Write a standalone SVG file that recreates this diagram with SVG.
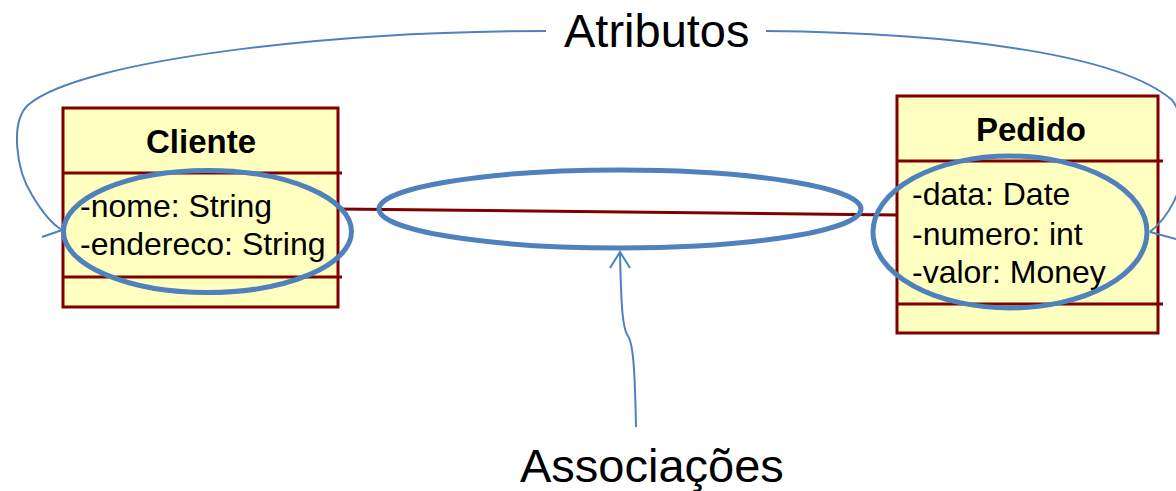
<svg xmlns="http://www.w3.org/2000/svg" width="1176" height="491" viewBox="0 0 1176 491">
<defs>
<style>
.box{fill:#FFFFBF;stroke:#800000;stroke-width:3}
.div{stroke:#800000;stroke-width:3;fill:none}
.title{font-family:"Liberation Sans",Arial,sans-serif;font-weight:bold;font-size:33px;fill:#000;text-anchor:middle}
.attr{font-family:"Liberation Sans",Arial,sans-serif;font-size:32px;fill:#000}
.label{font-family:"Liberation Sans",Arial,sans-serif;font-size:47px;fill:#000}
.ell{fill:none;stroke:#4F81BD;stroke-width:5}
.cur{fill:none;stroke:#4F81BD;stroke-width:2}
.assoc{stroke:#800000;stroke-width:3;fill:none}
</style>
</defs>
<rect width="1176" height="491" fill="#fff"/>
<g id="connectors">
<line class="assoc" x1="338" y1="209" x2="897" y2="215"/>
</g>
<g id="cliente">
<rect class="box" x="63" y="108" width="275" height="199"/>
<line class="div" x1="63" y1="173" x2="342" y2="173"/>
<line class="div" x1="63" y1="277" x2="342" y2="277"/>
<text class="title" x="201" y="153">Cliente</text>
<text class="attr" x="80" y="217">-nome: String</text>
<text class="attr" x="80" y="255">-endereco: String</text>
</g>
<g id="pedido">
<rect class="box" x="897" y="96" width="261" height="237"/>
<line class="div" x1="897" y1="161" x2="1163" y2="161"/>
<line class="div" x1="897" y1="304" x2="1163" y2="304"/>
<text class="title" x="1031" y="141">Pedido</text>
<text class="attr" x="912" y="205">-data: Date</text>
<text class="attr" x="912" y="245">-numero: int</text>
<text class="attr" x="912" y="283">-valor: Money</text>
</g>
<g id="highlights">
<ellipse class="ell" cx="207.5" cy="231.5" rx="144" ry="61"/>
<ellipse class="ell" cx="620" cy="209" rx="241" ry="39"/>
<ellipse class="ell" cx="1010" cy="232" rx="137" ry="76"/>
</g>
<g id="annotations">
<text class="label" x="564" y="47">Atributos</text>
<text class="label" x="520" y="482">Associações</text>
<path class="cur" d="M546,31 C 330,31 80,60 28,105 C 10,122 16,170 32,195 C 42,212 52,224 62,230"/>
<path class="cur" d="M62,230 L42,237"/>
<path class="cur" d="M766,31 C 960,33 1120,55 1172,100 C 1195,130 1190,200 1150,232"/>
<path class="cur" d="M1150,232 L1176,239"/>
<path class="cur" d="M636,427 C 635,380 634,345 628,336 C 622,328 621,300 620,252"/>
<path class="cur" d="M610,268 L620,252 L630,268"/>
</g>
</svg>
